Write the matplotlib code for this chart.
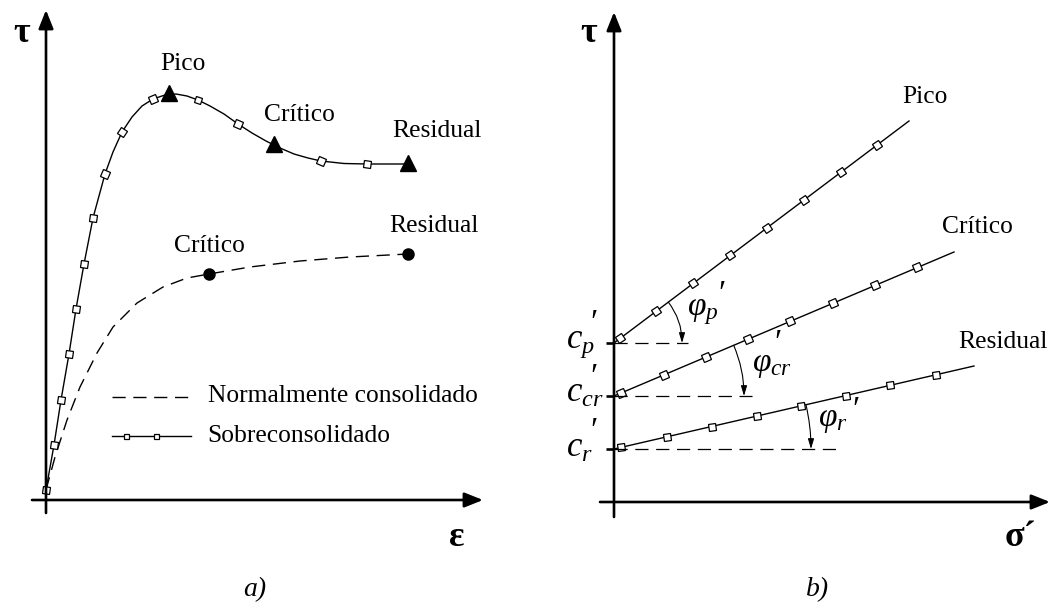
import numpy as np
import matplotlib
matplotlib.use("Agg")
import matplotlib.pyplot as plt
from matplotlib.markers import MarkerStyle
from matplotlib.transforms import Affine2D

plt.rcParams['font.family'] = ['Liberation Serif', 'DejaVu Serif']
plt.rcParams['mathtext.fontset'] = 'custom'
plt.rcParams['mathtext.rm'] = 'Liberation Serif'
plt.rcParams['mathtext.it'] = 'Liberation Serif:italic'
plt.rcParams['mathtext.bf'] = 'Liberation Serif:bold'
plt.rcParams['lines.scale_dashes'] = False

# ---------------- (a) stress-strain curves ----------------
# over-consolidated curve (path) and its square markers
over_eps = [0.0, 0.2, 0.375, 0.575, 0.75, 0.95, 1.175, 1.475, 1.675, 1.9,
            2.15, 2.4, 2.675, 2.975, 3.25, 3.525, 3.8, 4.1, 4.45, 4.8,
            5.15, 5.5, 5.85, 6.2, 6.55, 6.875, 7.45, 8.025, 8.6, 9.05]
over_tau = [0.25, 1.375, 2.5, 3.65, 4.775, 5.9, 7.05, 8.15, 8.7, 9.2,
            9.575, 9.85, 10.025, 10.125, 10.15, 10.1, 10.0, 9.85, 9.65, 9.4,
            9.175, 8.975, 8.8, 8.65, 8.55, 8.475, 8.4125, 8.4, 8.4, 8.4]
over_mark_eps = [0.0, 0.2, 0.375, 0.575, 0.75, 0.95, 1.175, 1.475, 1.9,
                 2.675, 3.8, 4.8, 6.875, 8.025]
over_mark_tau = [0.25, 1.375, 2.5, 3.65, 4.775, 5.9, 7.05, 8.15, 9.2,
                 10.025, 10.0, 9.4, 8.475, 8.4]
# peak / critical / residual states of the over-consolidated soil
over_state_eps = [3.075, 5.7, 9.05]
over_state_tau = [10.175, 8.9, 8.425]
over_state_names = ['Pico', 'Crítico', 'Residual']

# normally consolidated curve and its states
normal_eps = [0.0, 0.225, 0.525, 0.85, 1.275, 1.675, 2.275, 2.925, 3.525,
              4.075, 5.1, 6.35, 7.6, 9.05]
normal_tau = [0.25, 1.075, 2.0, 2.825, 3.675, 4.325, 4.925, 5.325, 5.55,
              5.65, 5.825, 5.975, 6.075, 6.15]
normal_state_eps = [4.075, 9.05]
normal_state_tau = [5.65, 6.15]
normal_state_names = ['Crítico', 'Residual']

legend_labels = ['Normalmente consolidado', 'Sobreconsolidado']

# ---------------- (b) failure envelopes ----------------
env_names = ['Pico', 'Crítico', 'Residual']
env_c = [3.975, 2.65, 1.325]            # cohesion intercepts
env_end_sigma = [7.375, 8.5, 9.0]
env_end_tau = [9.525, 6.25, 3.4]
env_mark_sigma = [
    [0.15, 1.05, 1.975, 2.9, 3.825, 4.75, 5.675, 6.575],
    [0.175, 1.25, 2.3, 3.35, 4.4, 5.475, 6.525, 7.575],
    [0.175, 1.325, 2.45, 3.575, 4.675, 5.8, 6.9, 8.05],
]
env_mark_tau = [
    [4.1, 4.775, 5.475, 6.175, 6.85, 7.55, 8.25, 8.925],
    [2.725, 3.175, 3.625, 4.075, 4.525, 4.975, 5.425, 5.875],
    [1.375, 1.625, 1.875, 2.15, 2.4, 2.65, 2.925, 3.175],
]
c_labels = [r"$c_{p}$", r"$c_{cr}$", r"$c_{r}$"]
phi_labels = [r"$\varphi_{p}$", r"$\varphi_{cr}$", r"$\varphi_{r}$"]
prime_mark = r"$\prime$"
ref_len = [1.85, 3.45, 5.625]           # dashed horizontal reference lengths
arc_radius = [1.7, 3.25, 4.925]

W, H = 1052, 605
SCALE = 40.0   # pixels per data unit
fig = plt.figure(figsize=(W / 100, H / 100), dpi=100)


def make_axes(x0, x1, ox, oy):
    ax = fig.add_axes([x0 / W, 0, (x1 - x0) / W, 1])
    ax.set_xlim((x0 - ox) / SCALE, (x1 - ox) / SCALE)
    ax.set_ylim((oy - H) / SCALE, oy / SCALE)
    ax.axis('off')
    return ax


def draw_axes_arrows(ax, xlo, xhi, ylo, yhi):
    style = dict(arrowstyle='-|>,head_length=0.8,head_width=0.32', lw=1.9,
                 color='black', mutation_scale=14, shrinkA=0, shrinkB=0)
    ax.annotate('', xy=(xhi, 0), xytext=(xlo, 0), arrowprops=style)
    ax.annotate('', xy=(0, yhi), xytext=(0, ylo), arrowprops=style)


def rotated_square(angle):
    return MarkerStyle('s', transform=Affine2D().rotate_deg(angle))


dash = (0, (9.5, 5.5))

# ---- panel a ----
axa = make_axes(0, 530, 46, 500)
draw_axes_arrows(axa, -0.35, 10.925, -0.325, 12.25)

axa.plot(normal_eps, normal_tau, color='black', lw=1.0, linestyle=dash)
axa.plot(over_eps, over_tau, color='black', lw=1.0)

me = np.array(over_mark_eps)
mt = np.array(over_mark_tau)
angles = np.degrees(np.arctan2(np.gradient(mt), np.gradient(me)))
for e, t, a in zip(me, mt, angles):
    axa.plot([e], [t], marker=rotated_square(a), ms=5.2, mfc='white',
             mec='black', mew=0.9, linestyle='none')

axa.plot(over_state_eps, over_state_tau, marker='^', ms=11, color='black',
         linestyle='none')
axa.plot(normal_state_eps, normal_state_tau, marker='o', ms=8, color='black',
         linestyle='none')

txt = dict(fontsize=18.4, ha='center', va='center')
over_label_pos = [(3.425, 10.9), (6.325, 9.625), (9.775, 9.225)]
for name, (x, y) in zip(over_state_names, over_label_pos):
    axa.text(x, y, name, **txt)
normal_label_pos = [(4.075, 6.35), (9.7, 6.85)]
for name, (x, y) in zip(normal_state_names, normal_label_pos):
    axa.text(x, y, name, **txt)

# legend
axa.plot([1.65, 3.625], [2.575, 2.575], color='black', lw=1.0, linestyle=dash)
axa.plot([1.65, 3.625], [1.6, 1.6], color='black', lw=1.0)
axa.plot([2.0, 2.75], [1.6, 1.6], marker='s', ms=3.6, mfc='white', mec='black',
         mew=0.9, linestyle='none')
axa.text(4.05, 2.6, legend_labels[0], fontsize=18.4, ha='left', va='center')
axa.text(4.025, 1.6, legend_labels[1], fontsize=18.4, ha='left', va='center')

axa.text(-0.6, 11.675, 'τ', fontsize=26, fontweight='bold', ha='center', va='center')
axa.text(10.275, -0.925, 'ε', fontsize=26, fontweight='bold', ha='center', va='center')
axa.text(5.225, -2.25, 'a)', fontsize=20, style='italic', ha='center', va='center')

# ---- panel b ----
axb = make_axes(530, 1052, 614, 502)
draw_axes_arrows(axb, -0.35, 10.9, -0.375, 12.25)

env_label_pos = [(7.775, 10.125), (9.075, 6.875), (9.725, 4.0)]
c_pos = [(-1.2, 3.85), (-1.2, 2.5), (-1.2, 1.125)]
c_prime_pos = [(-0.5, 4.5), (-0.5, 3.15), (-0.5, 1.8)]
phi_pos = [(1.825, 4.675), (3.45, 3.275), (5.1, 1.9)]
phi_prime_pos = [(2.7, 5.225), (4.1, 4.0), (6.05, 2.325)]

for i in range(3):
    c = env_c[i]
    axb.plot([0, env_end_sigma[i]], [c, env_end_tau[i]], color='black', lw=1.0)
    ang = np.degrees(np.arctan2(env_end_tau[i] - c, env_end_sigma[i]))
    axb.plot(env_mark_sigma[i], env_mark_tau[i], marker=rotated_square(ang),
             ms=5.2, mfc='white', mec='black', mew=0.9, linestyle='none')
    # dashed reference and tick on the tau axis
    axb.plot([0, ref_len[i]], [c, c], color='black', lw=0.9, linestyle=dash)
    axb.plot([-0.2, 0], [c, c], color='black', lw=1.9, solid_capstyle='butt')
    # angle arc with arrow
    th = np.arctan2(env_end_tau[i] - c, env_end_sigma[i])
    r = arc_radius[i]
    start = (r * np.cos(th), c + r * np.sin(th))
    end = (r, c)
    axb.annotate('', xy=end, xytext=start,
                 arrowprops=dict(arrowstyle='-|>,head_length=0.5,head_width=0.15',
                                 connectionstyle=f'arc3,rad={-np.tan(th / 2) / 2:.4f}',
                                 lw=0.8, color='black', mutation_scale=12,
                                 shrinkA=0, shrinkB=0))
    axb.text(*env_label_pos[i], env_names[i], **txt)
    axb.text(*c_pos[i], c_labels[i], fontsize=25, ha='left', va='baseline')
    axb.text(*c_prime_pos[i], prime_mark, fontsize=24, ha='center', va='center')
    axb.text(*phi_pos[i], phi_labels[i], fontsize=24, ha='left', va='baseline')
    axb.text(*phi_prime_pos[i], prime_mark, fontsize=24, ha='center', va='center')

axb.text(-0.625, 11.725, 'τ', fontsize=26, fontweight='bold', ha='center', va='center')
axb.text(10.15, -0.875, 'σ´', fontsize=26, fontweight='bold', ha='center', va='center')
axb.text(5.1, -2.2, 'b)', fontsize=20, style='italic', ha='center', va='center')

fig.savefig('out.png', dpi=100)
